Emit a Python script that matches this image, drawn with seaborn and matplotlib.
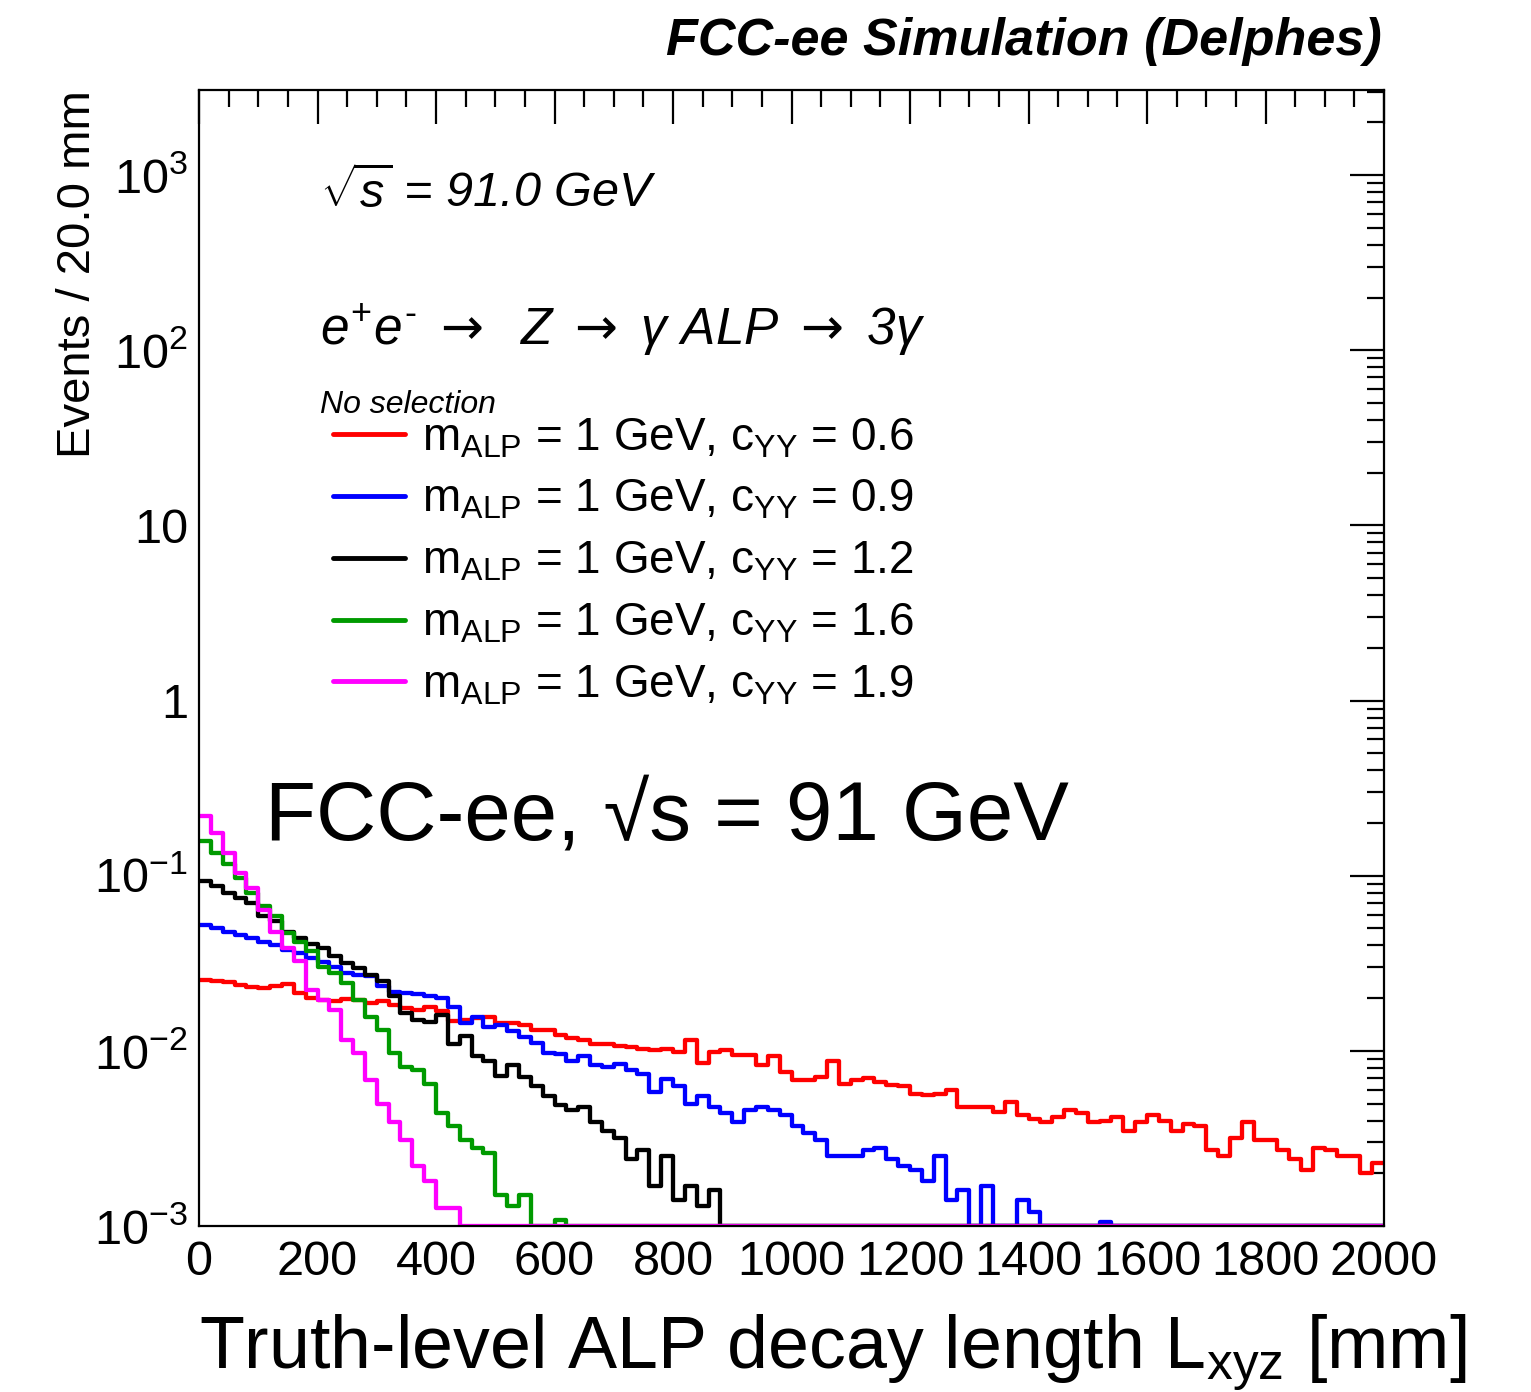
import numpy as np
import pandas as pd
import matplotlib
matplotlib.use("Agg")
import matplotlib.pyplot as plt
import seaborn as sns
from matplotlib.ticker import MultipleLocator, LogLocator, FuncFormatter, NullFormatter

# ---------------- data (events / 20 mm bin, 0-2000 mm, 100 bins) ----------------
BIN_WIDTH_MM = 20
X_MAX_MM = 2000

red_c06 = [0.0254, 0.0249, 0.0246, 0.0238, 0.0231, 0.0228, 0.0235, 0.0240, 0.0213, 0.0200,
           0.0196, 0.0192, 0.0198, 0.0196, 0.0187, 0.0192, 0.0183, 0.0175, 0.0172, 0.0177,
           0.0168, 0.0149, 0.0150, 0.0155, 0.0157, 0.0144, 0.0144, 0.0140, 0.0132, 0.0132,
           0.0123, 0.0119, 0.0116, 0.0110, 0.0110, 0.0107, 0.0105, 0.0102, 0.0101, 0.0102,
           0.0099, 0.0116, 0.0085, 0.0099, 0.0101, 0.0095, 0.0095, 0.0083, 0.0093, 0.0076,
           0.0068, 0.0068, 0.0071, 0.0087, 0.0065, 0.0068, 0.0070, 0.0066, 0.0064, 0.0063,
           0.0057, 0.0056, 0.0057, 0.0060, 0.0048, 0.0048, 0.0048, 0.0045, 0.0051, 0.0043,
           0.0041, 0.0039, 0.0042, 0.0046, 0.0044, 0.0039, 0.0040, 0.0042, 0.0035, 0.0039,
           0.0043, 0.0040, 0.0035, 0.0038, 0.0037, 0.0027, 0.0025, 0.0032, 0.0039, 0.0031,
           0.0031, 0.0027, 0.0024, 0.0021, 0.0028, 0.0027, 0.0025, 0.0025, 0.0020, 0.0023]

blue_c09 = [0.0525, 0.0500, 0.0480, 0.0460, 0.0440, 0.0420, 0.0400, 0.0377, 0.0360, 0.0340,
            0.0320, 0.0300, 0.0280, 0.0270, 0.0266, 0.0235, 0.0218, 0.0214, 0.0210, 0.0206,
            0.0200, 0.0179, 0.0144, 0.0157, 0.0137, 0.0141, 0.0129, 0.0120, 0.0111, 0.0097,
            0.0096, 0.0088, 0.0093, 0.0083, 0.0081, 0.0084, 0.0078, 0.0074, 0.0058, 0.0069,
            0.0063, 0.0050, 0.0055, 0.0048, 0.0044, 0.0039, 0.0046, 0.0048, 0.0046, 0.0043,
            0.0037, 0.0034, 0.0031, 0.0025, 0.0025, 0.0025, 0.0027, 0.0028, 0.0024, 0.0022,
            0.0021, 0.0018, 0.0025, 0.0014, 0.0016, 0.0, 0.0017, 0.0, 0.0, 0.0014,
            0.0012, 0.0, 0.0, 0.0, 0.0, 0.0, 0.00106, 0.0, 0.0, 0.0,
            0.0, 0.0, 0.0, 0.0, 0.0, 0.0, 0.0, 0.0, 0.0, 0.0,
            0.0, 0.0, 0.0, 0.0, 0.0, 0.0, 0.0, 0.0, 0.0, 0.0]

black_c12 = [0.0930, 0.0870, 0.0800, 0.0745, 0.0700, 0.0585, 0.0550, 0.0480, 0.0440, 0.0410,
             0.0386, 0.0346, 0.0317, 0.0297, 0.0272, 0.0249, 0.0205, 0.0164, 0.0150, 0.0147,
             0.0160, 0.0110, 0.0121, 0.0093, 0.0087, 0.0072, 0.0083, 0.0071, 0.0063, 0.0055,
             0.0049, 0.0046, 0.0048, 0.0039, 0.0035, 0.0032, 0.0024, 0.0027, 0.0017, 0.0025,
             0.0014, 0.0017, 0.0013, 0.0016] + [0.0] * 56

green_c16 = [0.157, 0.135, 0.116, 0.097, 0.080, 0.0667, 0.0585, 0.047, 0.042, 0.037,
             0.030, 0.028, 0.0243, 0.0195, 0.0157, 0.0132, 0.0097, 0.0081, 0.0078, 0.0065,
             0.0044, 0.0037, 0.0031, 0.0028, 0.0026, 0.0015, 0.0013, 0.0015, 0.0, 0.0,
             0.00108] + [0.0] * 69

magenta_c19 = [0.218, 0.175, 0.135, 0.104, 0.085, 0.064, 0.048, 0.0386, 0.0324, 0.0223,
               0.0196, 0.0170, 0.0116, 0.0097, 0.0068, 0.0050, 0.0039, 0.0031, 0.0022, 0.0018,
               0.00126, 0.00126] + [0.0] * 78

series_labels = [r"m$_{\mathrm{ALP}}$ = 1 GeV, c$_{\mathrm{YY}}$ = 0.6",
                 r"m$_{\mathrm{ALP}}$ = 1 GeV, c$_{\mathrm{YY}}$ = 0.9",
                 r"m$_{\mathrm{ALP}}$ = 1 GeV, c$_{\mathrm{YY}}$ = 1.2",
                 r"m$_{\mathrm{ALP}}$ = 1 GeV, c$_{\mathrm{YY}}$ = 1.6",
                 r"m$_{\mathrm{ALP}}$ = 1 GeV, c$_{\mathrm{YY}}$ = 1.9"]
series_colors = ["#ff0000", "#0000ff", "#000000", "#009a00", "#ff00ff"]
series_values = [red_c06, blue_c09, black_c12, green_c16, magenta_c19]

YMIN, YMAX = 1e-3, 3060

# ---------------- style ----------------
sns.set_theme(style="white")
plt.rcParams['font.family'] = ['Liberation Sans', 'DejaVu Sans']
plt.rcParams['mathtext.fontset'] = 'custom'
plt.rcParams['mathtext.rm'] = 'Liberation Sans'
plt.rcParams['mathtext.it'] = 'Liberation Sans:italic'
plt.rcParams['mathtext.bf'] = 'Liberation Sans:bold'
plt.rcParams['mathtext.sf'] = 'DejaVu Sans'
plt.rcParams['axes.unicode_minus'] = False
for key in ['text.color', 'axes.labelcolor', 'xtick.color', 'ytick.color', 'axes.edgecolor']:
    plt.rcParams[key] = 'black'

W, H = 1531, 1392
fig = plt.figure(figsize=(W / 100, H / 100), dpi=100)
fig.patch.set_facecolor("white")

def fx(x):
    return x / W

def fy(y):
    return 1 - y / H

ax = fig.add_axes([fx(199), fy(1226), (1384 - 199) / W, (1226 - 90) / H])
ax.set_facecolor("white")

n_bins = len(red_c06)
centers = (np.arange(n_bins) + 0.5) * BIN_WIDTH_MM

for vals, color, lab in zip(series_values, series_colors, series_labels):
    v = np.asarray(vals, dtype=float)
    v = np.where(v > 0, v, YMIN)  # empty bins are drawn on the frame floor, as ROOT does
    df = pd.DataFrame({"L": centers, "w": v})
    sns.histplot(data=df, x="L", weights="w", binwidth=BIN_WIDTH_MM, binrange=(0, X_MAX_MM),
                 element="step", fill=False, color=color, linewidth=3.1, ax=ax, label=lab)

ax.set_yscale("log")
ax.set_ylim(YMIN, YMAX)
ax.set_xlim(0, X_MAX_MM)

# ticks
ax.xaxis.set_major_locator(MultipleLocator(200))
ax.xaxis.set_minor_locator(MultipleLocator(50))
ax.yaxis.set_major_locator(LogLocator(base=10, numticks=20))
ax.yaxis.set_minor_locator(LogLocator(base=10, subs=np.arange(2, 10), numticks=20))
ax.yaxis.set_minor_formatter(NullFormatter())
ax.xaxis.get_offset_text().set_visible(False)
ax.yaxis.get_offset_text().set_visible(False)

def yfmt(v, pos):
    e = int(round(np.log10(v)))
    if e == 0:
        return "1"
    if e == 1:
        return "10"
    return r"$10^{%d}$" % e

ax.yaxis.set_major_formatter(FuncFormatter(yfmt))
ax.tick_params(which="both", direction="in", top=True, right=True, width=1.6,
               colors="black", labelsize=35)
ax.tick_params(which="major", length=24.5)
ax.tick_params(which="minor", length=12)
ax.tick_params(axis="x", which="major", pad=10)
ax.tick_params(axis="y", which="major", pad=8)
for s in ax.spines.values():
    s.set_linewidth(1.6)
    s.set_color("black")

# axis titles
ax.set_ylabel("Events / 20.0 mm", fontsize=34, loc="top")
ax.yaxis.set_label_coords((100 - 199) / 1185, 1.0)
ax.set_xlabel(r"Truth-level ALP decay length L$_{\mathrm{xyz}}$ [mm]", fontsize=53)
ax.xaxis.label.set_va("baseline")
ax.xaxis.label.set_ha("center")
ax.xaxis.set_label_coords((833 - 199) / 1185, -(1369 - 1226) / 1136)

# legend
leg = ax.legend(loc="upper left", bbox_to_anchor=((333 - 199) / 1185, 1 - (416 - 90) / 1136),
                frameon=False, fontsize=33, handlelength=1.57, handletextpad=0.37,
                labelspacing=0.39, borderpad=0, borderaxespad=0)
for line in leg.get_lines():
    line.set_linewidth(3.5)

# annotations
ARROW = r"$\mathsf{\rightarrow}$"
fig.text(fx(1382), fy(42), "FCC-ee Simulation (Delphes)", ha="right", va="center",
         fontsize=37.5, fontweight="bold", fontstyle="italic")
fig.text(fx(320), fy(193), r"$\sqrt{s}$ = 91.0 GeV", ha="left", va="center",
         fontsize=35, fontstyle="italic")
fig.text(fx(320), fy(330),
         r"$e^{+}e^{\text{-}}$ " + ARROW + "  Z " + ARROW + r" $\gamma$ ALP " + ARROW + r" 3$\gamma$",
         ha="left", va="center", fontsize=37, fontstyle="italic")
fig.text(fx(320), fy(405), "No selection", ha="left", va="center", fontsize=23, fontstyle="italic")
fig.text(fx(265), fy(840), "FCC-ee, \u221as = 91 GeV", ha="left", va="baseline",
         fontsize=60)

fig.savefig("out.png", dpi=100, facecolor="white")
